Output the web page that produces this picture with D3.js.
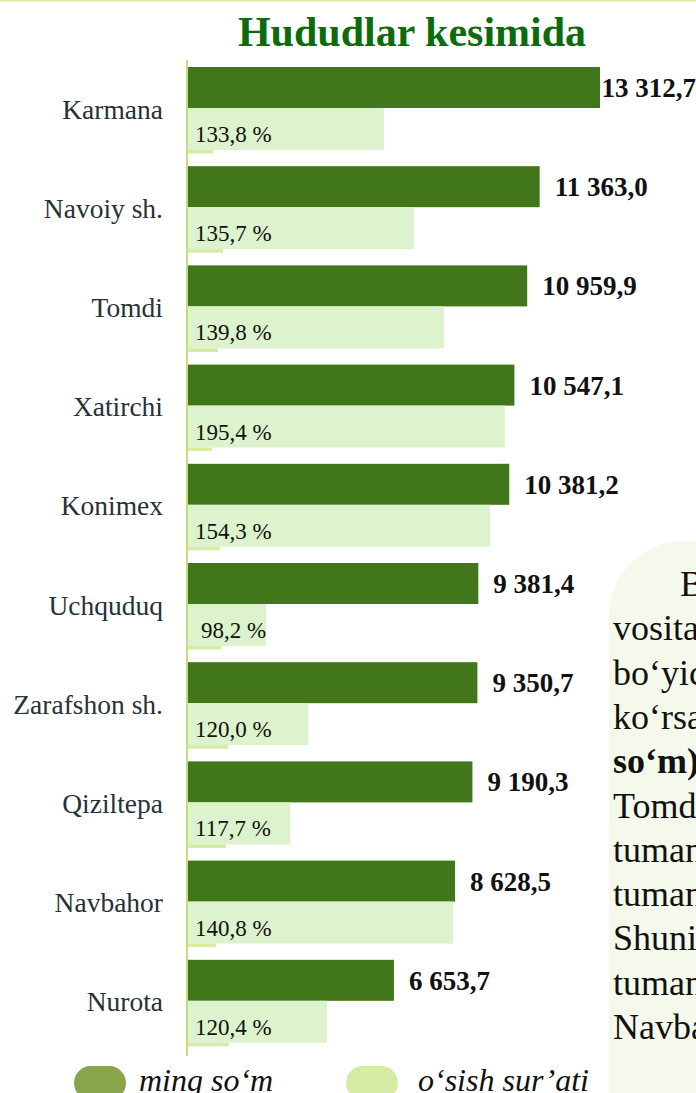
<!DOCTYPE html>
<html>
<head>
<meta charset="utf-8">
<script src="https://cdn.jsdelivr.net/npm/d3@7"></script>
<style>
  html, body { margin: 0; padding: 0; background: #fff; overflow: hidden; }
  svg { display: block; font-family: "Liberation Serif", "Times New Roman", serif; }
</style>
</head>
<body>
<svg width="696" height="1093"></svg>
<script>
// hududlar
var categories = ["Karmana", "Navoiy sh.", "Tomdi", "Xatirchi", "Konimex",
  "Uchquduq", "Zarafshon sh.", "Qiziltepa", "Navbahor", "Nurota"];
// ming so'm
var values = [13312.7, 11363.0, 10959.9, 10547.1, 10381.2, 9381.4, 9350.7, 9190.3, 8628.5, 6653.7];
// o'sish sur'ati (%), yozuvlar
var growth = [133.8, 135.7, 139.8, 195.4, 154.3, 98.2, 120.0, 117.7, 140.8, 120.4];
// och yashil ustunlar uzunligi (rasmdan o'lchangan, ming so'm shkalasida)
var lightBars = [6330, 7300, 8270, 10240, 9760, 2520, 3880, 3300, 8560, 4490];
// pastdagi ingichka chiziqchalar
var slivers = [810, 1130, 970, 780, 1030, 1070, 1290, 1230, 900, 1320];

var legendNames = ["ming so\u2018m", "o\u2018sish sur\u2019ati"];

var textLines = [
  {t: "Bu", b: false, x: 680},
  {t: "vositalari", b: false},
  {t: "bo\u2018yicha", b: false},
  {t: "ko\u2018rsatkich", b: false},
  {t: "so\u2018m)", b: true},
  {t: "Tomdi", b: false},
  {t: "tumanida", b: false},
  {t: "tumanida", b: false},
  {t: "Shuningdek", b: false},
  {t: "tumanida", b: false},
  {t: "Navbahor", b: false}
];

var svg = d3.select("svg"),
    width = +svg.attr("width"),
    height = +svg.attr("height");

var fmt = function (v) {
  var s = d3.format(",.1f")(v);
  return s.replace(/,/g, " ").replace(".", ",");
};

// top border
svg.append("line")
  .attr("x1", 0).attr("x2", width).attr("y1", 0.5).attr("y2", 0.5)
  .attr("stroke", "#d4eba3").attr("stroke-width", 2);

// text box on right
svg.append("rect")
  .attr("x", 609).attr("y", 541)
  .attr("width", 200).attr("height", 700)
  .attr("rx", 75).attr("ry", 75)
  .attr("fill", "#f5f9eb");

var tb = svg.append("text")
  .attr("font-size", 36)
  .attr("fill", "#111");
textLines.forEach(function (l, i) {
  tb.append("tspan")
    .attr("x", l.x || 613)
    .attr("y", 596 + i * 44.3)
    .attr("font-weight", l.b ? "bold" : "normal")
    .text(l.t);
});

// title
svg.append("text")
  .attr("x", 412).attr("y", 46)
  .attr("text-anchor", "middle")
  .attr("font-size", 42)
  .attr("font-weight", "bold")
  .attr("fill", "#0c6c0c")
  .text("Hududlar kesimida");

var x0 = 188;
var x = d3.scaleLinear()
  .domain([0, 13312.7])
  .range([x0, 600]);

var y = d3.scaleBand()
  .domain(categories)
  .range([67, 67 + 99.2 * categories.length])
  .paddingInner(0)
  .paddingOuter(0);

var darkH = 41, lightH = 42;

var row = svg.selectAll(".row")
  .data(categories)
  .enter().append("g")
  .attr("class", "row")
  .attr("transform", function (d) { return "translate(0," + y(d) + ")"; });

row.append("rect")
  .attr("x", x0)
  .attr("y", 0)
  .attr("width", function (d, i) { return x(values[i]) - x0; })
  .attr("height", darkH)
  .attr("fill", "#41761a");

row.append("rect")
  .attr("x", x0)
  .attr("y", darkH)
  .attr("width", function (d, i) { return x(lightBars[i]) - x0; })
  .attr("height", lightH)
  .attr("fill", "#dcf3cd");

row.append("rect")
  .attr("x", x0)
  .attr("y", darkH + lightH)
  .attr("width", function (d, i) { return x(slivers[i]) - x0; })
  .attr("height", 3.5)
  .attr("fill", "#d5eca2");

// category labels
row.append("text")
  .attr("x", 163)
  .attr("y", darkH + 1)
  .attr("dy", "0.35em")
  .attr("text-anchor", "end")
  .attr("font-size", 27.5)
  .attr("fill", "#263238")
  .text(function (d) { return d; });

// percent labels
row.append("text")
  .attr("x", function (d, i) { return growth[i] < 100 ? 201 : 195; })
  .attr("y", darkH + 26)
  .attr("dy", "0.35em")
  .attr("font-size", 23)
  .attr("fill", "#111")
  .text(function (d, i) { return fmt(growth[i]) + " %"; });

// value labels
row.append("text")
  .attr("y", darkH / 2)
  .attr("dy", "0.35em")
  .attr("font-size", 27)
  .attr("font-weight", "bold")
  .attr("fill", "#111")
  .text(function (d, i) { return fmt(values[i]); })
  .attr("x", function (d, i) {
    var w = this.getComputedTextLength();
    return Math.min(x(values[i]) + 15, width - w);
  });

// axis line
svg.append("line")
  .attr("x1", 187).attr("x2", 187)
  .attr("y1", 60).attr("y2", 1056)
  .attr("stroke", "#c3df7c").attr("stroke-width", 2);

// legend
var legColors = ["#88a54c", "#d5eda2"];
var legX = [74, 346], legTx = [139, 418];
var leg = svg.selectAll(".leg")
  .data(legendNames)
  .enter().append("g")
  .attr("class", "leg");
leg.append("rect")
  .attr("x", function (d, i) { return legX[i]; })
  .attr("y", 1066)
  .attr("width", 52).attr("height", 34)
  .attr("rx", 17)
  .attr("fill", function (d, i) { return legColors[i]; });
leg.append("text")
  .attr("x", function (d, i) { return legTx[i]; })
  .attr("y", 1091)
  .attr("font-size", 32)
  .attr("font-style", "italic")
  .attr("fill", "#111")
  .text(function (d) { return d; });
</script>
</body>
</html>
